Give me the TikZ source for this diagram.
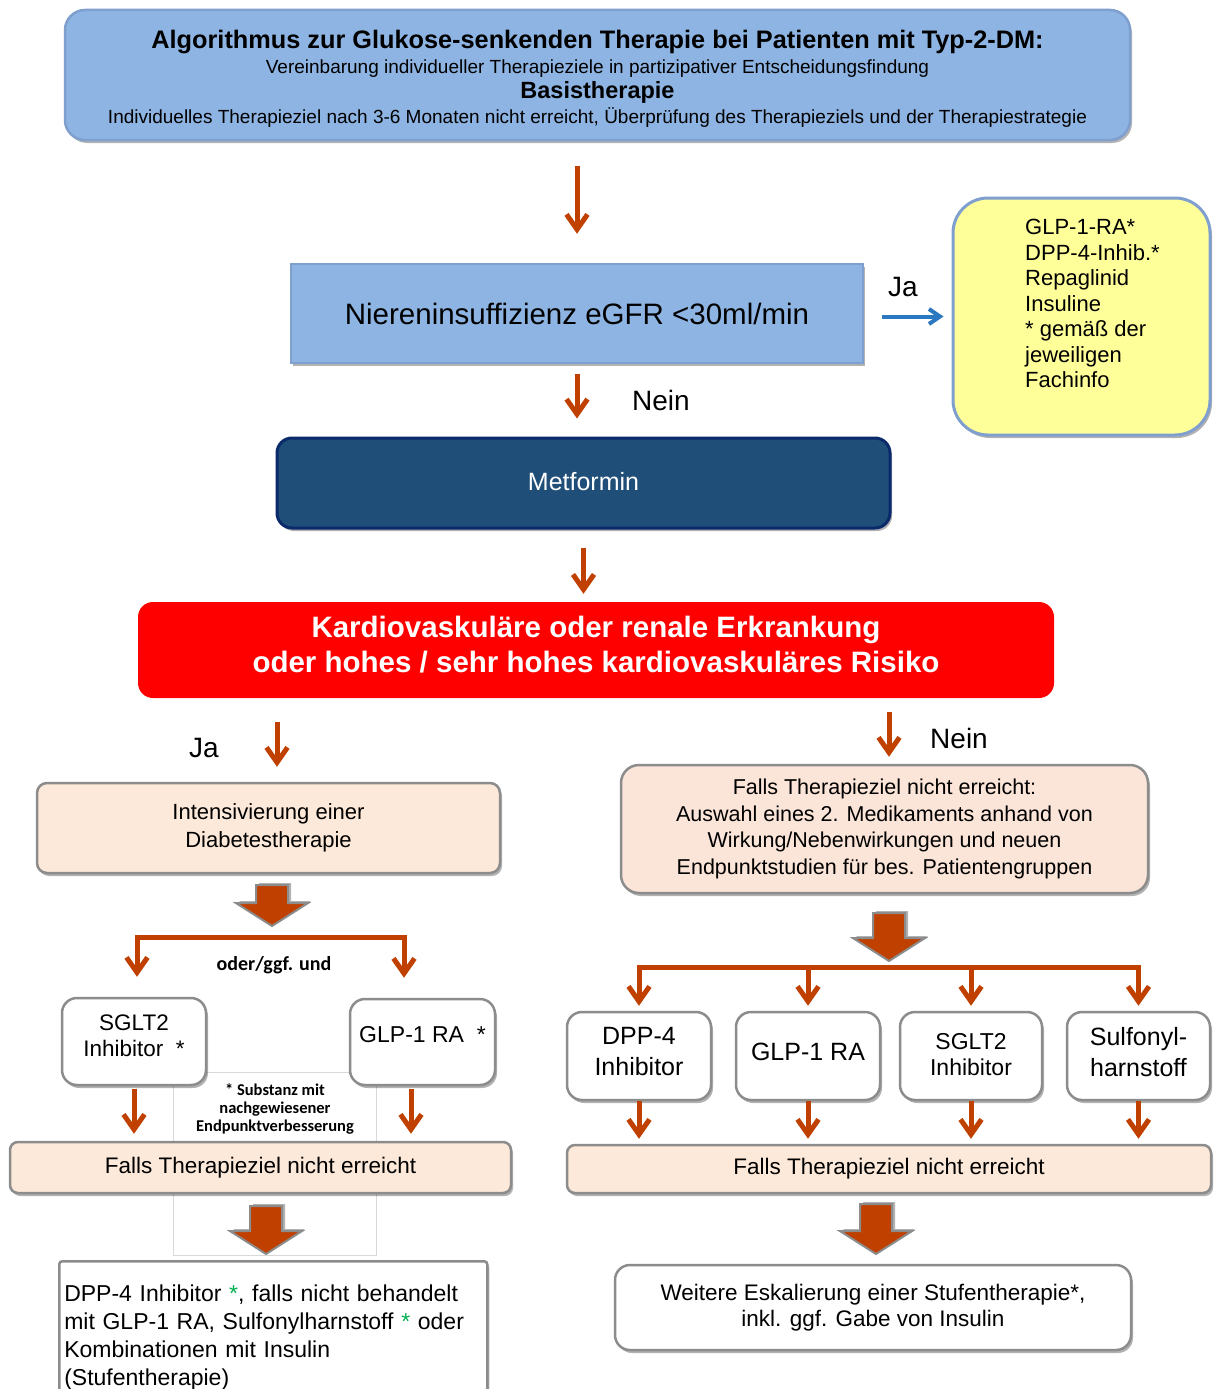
\documentclass[tikz,border=0pt]{standalone}
\usepackage{fontspec}
\setmainfont{Liberation Sans}
\newfontfamily\notefont{Carlito}
\usetikzlibrary{arrows.meta, shapes.arrows, shadows}

\definecolor{headblue}{HTML}{8DB4E2}
\definecolor{edgeblue}{HTML}{7F9FCF}
\definecolor{metblue}{HTML}{1F4E79}
\definecolor{metedge}{HTML}{0B2A6B}
\definecolor{arrowred}{HTML}{C04000}
\definecolor{peach}{HTML}{FDE9D9}
\definecolor{peachpink}{HTML}{FBE4D8}
\definecolor{altyellow}{HTML}{FFFF99}
\definecolor{boxgray}{HTML}{8C8C8C}
\definecolor{jablue}{HTML}{2A78C0}
\definecolor{stargreen}{HTML}{00B050}

\newcommand{\fsz}[2]{\fontsize{#1pt}{#2pt}\selectfont}
% invisible struts to nudge text inside a box
\newcommand{\lowpad}[1]{\rule[-#1]{0pt}{0pt}}
\newcommand{\highpad}[1]{\rule{0pt}{#1}}

\begin{document}
\begin{tikzpicture}[x=1pt, y=-1pt,
        every node/.style={inner sep=0pt, align=center},
        boxshadow/.style={drop shadow={shadow xshift=2pt, shadow yshift=-3pt, opacity=0.3, fill=black}},
        bluebox/.style={draw=edgeblue, line width=2.5pt, fill=headblue, boxshadow},
        peachbox/.style={draw=boxgray, line width=2.5pt, fill=peach, rounded corners=10pt, boxshadow},
        whitebox/.style={draw=boxgray, line width=2.5pt, fill=white, rounded corners=15pt, boxshadow},
        smallbox/.style={whitebox, minimum width=144pt, minimum height=88pt, font=\fsz{25}{31}},
        orarrow/.style={draw=arrowred, line width=5pt, -{Straight Barb[length=15pt,width=21pt]}},
        bluearrow/.style={draw=jablue, line width=4pt, -{Straight Barb[length=11pt,width=15pt]}},
        bigarrow/.style={single arrow, rotate=-90, anchor=tail, fill=arrowred, draw=boxgray,
            line width=2pt, inner xsep=0pt, inner ysep=15pt, single arrow head extend=20pt,
            single arrow tip angle=115,
            drop shadow={shadow xshift=3pt, shadow yshift=2pt, opacity=0.3, fill=black}},
        answer/.style={font=\fsz{28}{30}}
    ]
    \path[use as bounding box, fill=white] (0,0) rectangle (1213,1389);

    % top part
    \node[bluebox, rounded corners=20pt, minimum width=1065pt, minimum height=130pt, font=\fsz{19}{25}] (head) at (597.5,75)
        {{\bfseries\fsz{25.3}{25}\highpad{26pt}Algorithmus zur Glukose-senkenden Therapie bei Patienten mit Typ-2-DM:}\\
         Vereinbarung individueller Therapieziele in partizipativer Entscheidungsfindung\\
         {\bfseries\fsz{23.5}{25}Basistherapie}\\
         Individuelles Therapieziel nach 3-6 Monaten nicht erreicht, Überprüfung des Therapieziels und der Therapiestrategie};
    \node[bluebox, minimum width=572pt, minimum height=99pt, font=\fsz{29.5}{34}] (renal) at (577,313.5) {Niereninsuffizienz eGFR <30ml/min};
    \node[draw=edgeblue, line width=3pt, fill=altyellow, rounded corners=35pt, minimum width=257pt, minimum height=237pt, boxshadow] (alt) at (1081.5,316.5) {};
    \node[anchor=north west, align=left, font=\fsz{22}{25.5}] (alttext) at (1025,219)
        {GLP-1-RA*\\DPP-4-Inhib.*\\Repaglinid\\Insuline\\* gemäß der\\jeweiligen\\Fachinfo};
    \node[answer] (ja1) at (903,287) {Ja};
    \draw[bluearrow, shorten <=18pt, shorten >=8pt] (renal.east |- alt.west) -- (alt.west);
    \draw[orarrow, shorten <=25pt, shorten >=29pt] (head.south -| renal.north) -- (renal.north);

    \node[draw=metedge, line width=3pt, fill=metblue, rounded corners=15pt, minimum width=613pt, minimum height=90pt,
        text=white, font=\fsz{25}{30}, boxshadow] (met) at (583.5,483) {Metformin\lowpad{4pt}};
    \draw[orarrow, shorten <=10pt, shorten >=18pt] (renal.south) -- (renal.south |- met.north);
    \node[answer] (nein1) at (661,400) {Nein};

    \node[fill=red, rounded corners=15pt, minimum width=916pt, minimum height=96pt, text=white,
        font=\bfseries\fsz{29.5}{35}] (risk) at (596,650)
        {Kardiovaskuläre oder renale Erkrankung\\oder hohes / sehr hohes kardiovaskuläres Risiko\lowpad{12pt}};
    \draw[orarrow, shorten <=18pt, shorten >=8pt] (met.south) -- (met.south |- risk.north);

    % left branch
    \node[peachbox, minimum width=463pt, minimum height=90pt, font=\fsz{22}{28}] (intens) at (268.5,828)
        {Intensivierung einer\\Diabetestherapie};
    \coordinate (jaL) at ([xshift=8.5pt]intens.north);
    \draw[orarrow, shorten <=24pt, shorten >=15pt] (jaL |- risk.south) -- (jaL);
    \node[answer] (ja2) at (204,748) {Ja};

    \node[bigarrow, minimum height=41pt] (blk1) at (272,884) {};
    \coordinate (forkL) at ([yshift=-10pt]blk1.tip);
    \node[font=\notefont\bfseries\fsz{20}{22}] (oder) at (274,965) {oder/ggf. und};

    \node[draw=black!15, line width=0.8pt, fill=white, minimum width=203pt, minimum height=183pt] (note) at (274.5,1163.5) {};
    \node[font=\notefont\bfseries\fsz{16.5}{18}] (notetext) at (275,1109) {* Substanz mit\\nachgewiesener\\Endpunktverbesserung};

    \node[whitebox, minimum width=144pt, minimum height=87pt, font=\fsz{22.5}{26}] (sgltL) at (134,1041.5) {SGLT2\\Inhibitor~~*\lowpad{12pt}};
    \node[whitebox, minimum width=145pt, minimum height=86pt, font=\fsz{23}{26}, text height=16pt, text depth=16pt] (glpL) at (422.5,1042) {GLP-1 RA~~*};
    \draw[orarrow, shorten >=20pt] (forkL) -| ([xshift=3pt]sgltL.north);
    \draw[orarrow, shorten >=20pt] (forkL) -| ([xshift=-18.5pt]glpL.north);

    \node[peachbox, rounded corners=8pt, minimum width=501pt, minimum height=51pt, font=\fsz{22.5}{26}] (fallsL) at (260.5,1167.5)
        {Falls Therapieziel nicht erreicht};
    \coordinate (glpLdown) at ([xshift=-11.5pt]glpL.south);
    \draw[orarrow, shorten <=3pt, shorten >=7pt] (sgltL.south) -- (sgltL.south |- fallsL.north);
    \draw[orarrow, shorten <=3pt, shorten >=7pt] (glpLdown) -- (glpLdown |- fallsL.north);

    \node[bigarrow, minimum height=48pt] (blk2) at (266,1205) {};
    \node[draw=boxgray, line width=2.5pt, fill=white, rounded corners=3pt, anchor=north west, inner xsep=5pt, inner ysep=24pt,
        text width=418pt, align=left, font=\fsz{23}{27.7}, boxshadow] (stepL) at (58,1260)
        {DPP-4 Inhibitor \textcolor{stargreen}{*}, falls nicht behandelt\\
         mit GLP-1 RA, Sulfonylharnstoff \textcolor{stargreen}{*} oder\\
         Kombinationen mit Insulin\\(Stufentherapie)};

    % right branch
    \node[peachbox, fill=peachpink, rounded corners=18pt, minimum width=527pt, minimum height=128pt, font=\fsz{21.5}{26.7}] (select) at (884.5,829)
        {Falls Therapieziel nicht erreicht:\\Auswahl eines 2. Medikaments anhand von\\Wirkung/Nebenwirkungen und neuen\\Endpunktstudien für bes. Patientengruppen};
    \coordinate (neinR) at ([xshift=4.5pt]select.north);
    \draw[orarrow, shorten <=14pt, shorten >=7pt] (neinR |- risk.south) -- (neinR);
    \node[answer] (nein2) at (959,738) {Nein};

    \node[bigarrow, minimum height=48pt] (blk3) at (889,912) {};
    \coordinate (forkR) at ([yshift=-5pt]blk3.tip);

    \node[smallbox] (dpp) at (639,1056) {DPP-4\\Inhibitor\lowpad{9pt}};
    \node[smallbox] (glpR) at (808,1056) {GLP-1 RA\lowpad{9pt}};
    \node[smallbox, minimum width=142pt, font=\fsz{23}{26}] (sgltR) at (971,1056) {SGLT2\\Inhibitor\lowpad{4pt}};
    \node[smallbox, minimum width=143pt] (sulfo) at (1138.5,1056) {Sulfonyl-\\harnstoff\lowpad{9pt}};

    \node[peachbox, rounded corners=8pt, minimum width=644pt, minimum height=48pt, font=\fsz{22.5}{26}] (fallsR) at (889,1169)
        {Falls Therapieziel nicht erreicht};
    \foreach \drug in {dpp, glpR, sgltR, sulfo} {
        \draw[orarrow, shorten >=5pt] (forkR) -| (\drug.north);
        \draw[orarrow, shorten >=5pt] (\drug.south) -- (\drug.south |- fallsR.north);
    }

    \node[bigarrow, minimum height=50pt] (blk4) at (876,1203) {};
    \node[whitebox, minimum width=516pt, minimum height=85pt, font=\fsz{22.5}{26}] (stepR) at (873,1307.5)
        {Weitere Eskalierung einer Stufentherapie*,\\inkl. ggf. Gabe von Insulin};
\end{tikzpicture}
\end{document}
